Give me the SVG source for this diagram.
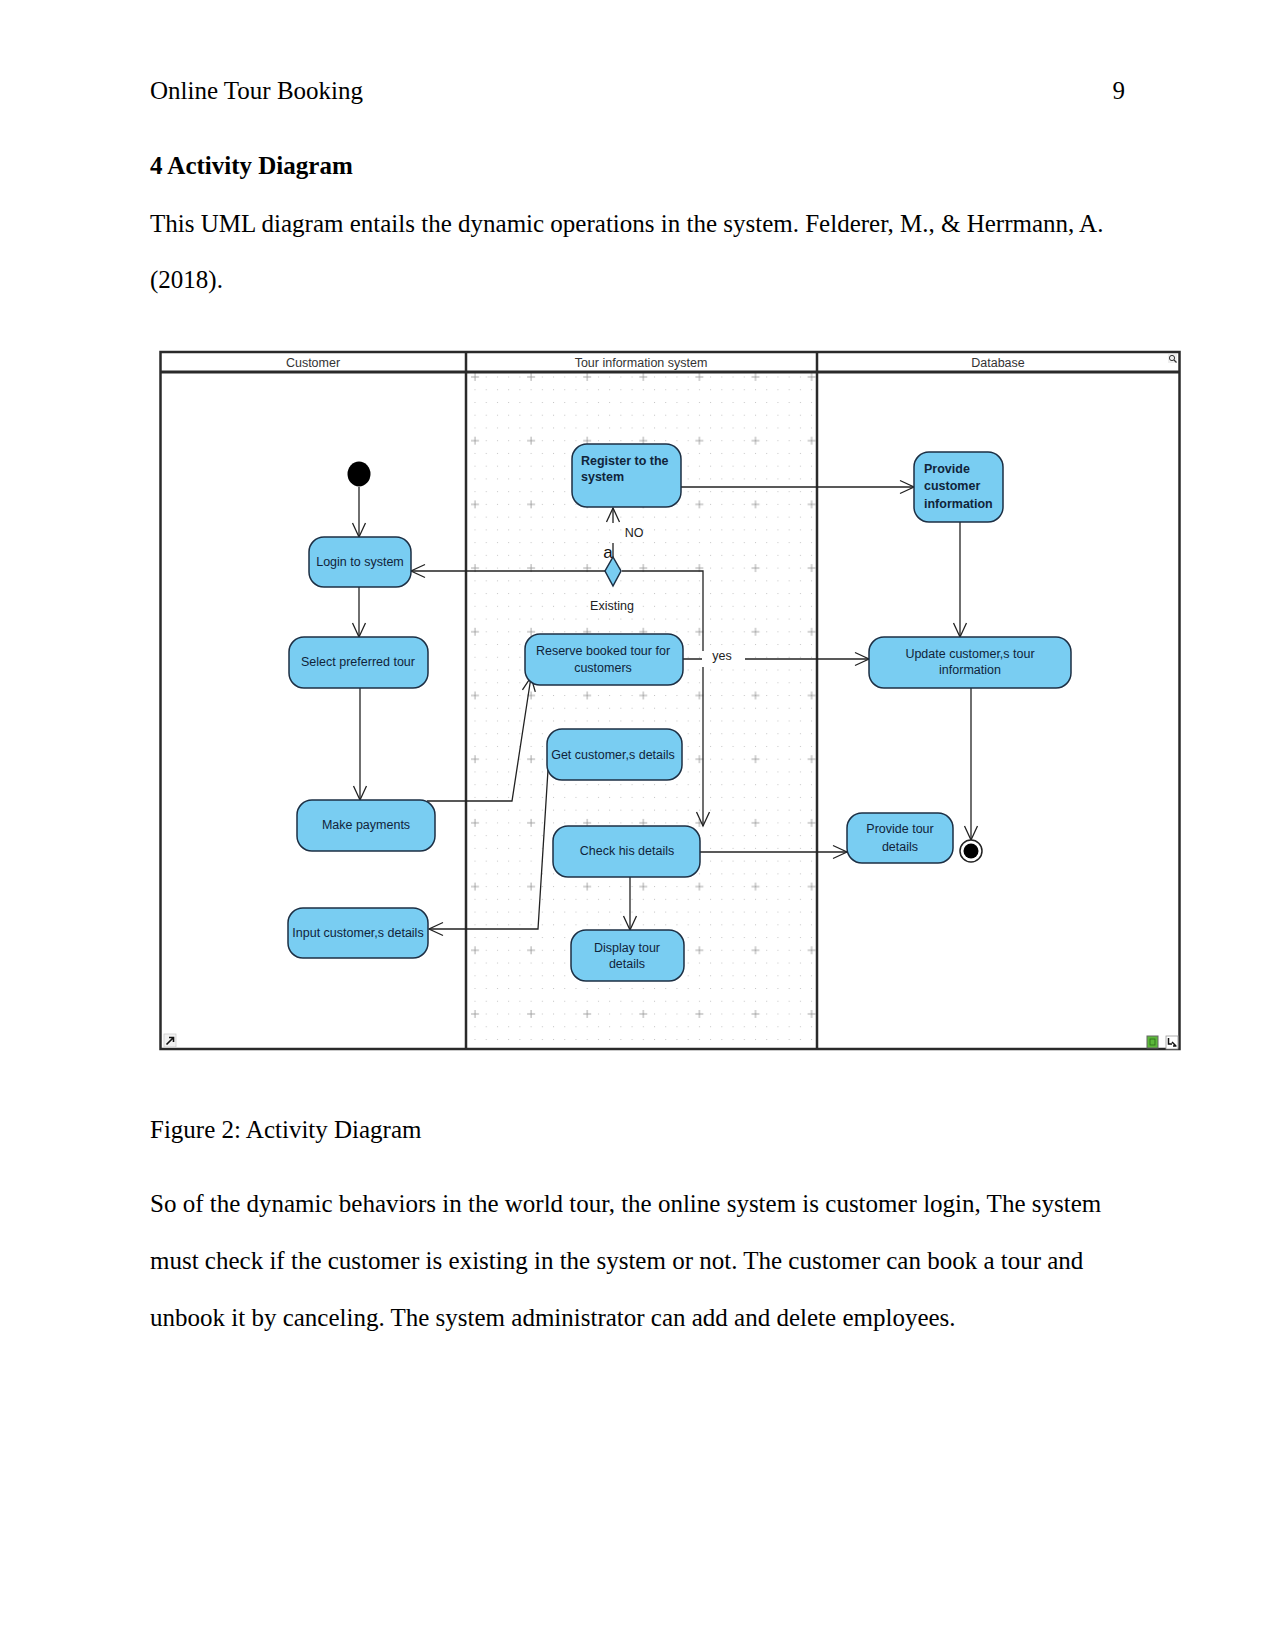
<svg xmlns="http://www.w3.org/2000/svg" width="1275" height="1651" viewBox="0 0 1275 1651">
<style>
.page{font-family:"Liberation Serif","Times New Roman",serif;font-size:25px;fill:#000}
.pb{font-weight:bold}
.hd{font-family:"Liberation Sans",Arial,sans-serif;font-size:12.5px;fill:#333;text-anchor:middle}
.node{fill:#79cdf2;stroke:#1c2f44;stroke-width:1.5}
.nt{font-family:"Liberation Sans",Arial,sans-serif;font-size:12.5px;fill:#10243a;text-anchor:middle}
.nb{font-weight:bold;text-anchor:start}
.lbl{font-family:"Liberation Sans",Arial,sans-serif;font-size:12.5px;fill:#222;text-anchor:middle}
.conn path{fill:none;stroke:#222;stroke-width:1.3}
.frame{fill:none;stroke:#2a2a2a}
</style>
<defs>
<marker id="arr" markerUnits="userSpaceOnUse" markerWidth="20" markerHeight="20" viewBox="-16 -10 20 20" refX="0" refY="0" orient="auto">
<path d="M-14,-6.5 L0,0 L-14,6.5" fill="none" stroke="#222" stroke-width="1.3"/>
</marker>
<pattern id="dots" patternUnits="userSpaceOnUse" x="474.5" y="376.5" width="11.22" height="12.74">
<rect x="0" y="0" width="1" height="1" fill="#c4c4c4"/>
</pattern>
<pattern id="plus" patternUnits="userSpaceOnUse" x="470" y="372" width="56.1" height="63.7">
<path d="M1,5 H9 M5,1 V9" stroke="#a8a8a8" stroke-width="1" fill="none"/>
</pattern>
</defs>
<rect width="1275" height="1651" fill="#fff"/>

<g id="page-text" class="page">
<text x="150" y="99">Online Tour Booking</text>
<text x="1125" y="99" text-anchor="end">9</text>
<text x="150" y="174" class="pb">4 Activity Diagram</text>
<text x="150" y="232">This UML diagram entails the dynamic operations in the system. Felderer, M., &amp; Herrmann, A.</text>
<text x="150" y="288">(2018).</text>
<text x="150" y="1138">Figure 2: Activity Diagram</text>
<text x="150" y="1212">So of the dynamic behaviors in the world tour, the online system is customer login, The system</text>
<text x="150" y="1269">must check if the customer is existing in the system or not. The customer can book a tour and</text>
<text x="150" y="1326">unbook it by canceling. The system administrator can add and delete employees.</text>
</g>

<g id="swimlanes">
<rect x="160" y="352" width="1019" height="697" fill="#fff"/>
<rect x="467" y="373" width="349" height="675" fill="url(#dots)"/>
<rect x="467" y="373" width="349" height="675" fill="url(#plus)"/>
<rect class="frame" x="160.5" y="352" width="1019" height="697" stroke-width="2.5"/>
<line class="frame" x1="160" y1="372" x2="1179" y2="372" stroke-width="3"/>
<line class="frame" x1="466" y1="352" x2="466" y2="1049" stroke-width="2.5"/>
<line class="frame" x1="817" y1="352" x2="817" y2="1049" stroke-width="2.5"/>
<text class="hd" x="313" y="366.5">Customer</text>
<text class="hd" x="641" y="366.5">Tour information system</text>
<text class="hd" x="998" y="366.5">Database</text>
<g id="icons">
<rect x="1168" y="354" width="9" height="9" fill="#eee"/>
<circle cx="1172" cy="358" r="2.6" fill="none" stroke="#333" stroke-width="1"/>
<line x1="1174" y1="360" x2="1176.5" y2="362.5" stroke="#333" stroke-width="1.2"/>
<rect x="164" y="1034" width="12" height="13" fill="#f2f2f2" stroke="#ccc" stroke-width="0.8"/>
<path d="M166.5,1044.5 L173,1038 M169,1037.5 H173.5 V1042" stroke="#111" stroke-width="1.6" fill="none"/>
<rect x="1147" y="1036" width="11" height="12" fill="#5cb83a" stroke="#666" stroke-width="1"/>
<rect x="1150" y="1039" width="5" height="6" fill="none" stroke="#2a6a1a" stroke-width="0.8"/>
<rect x="1166" y="1036" width="12" height="13" fill="#fff" stroke="#999" stroke-width="0.8"/>
<path d="M1168.5,1038 V1044 H1172 M1172,1042 L1176,1046 M1173,1046 H1176.5" stroke="#111" stroke-width="1.5" fill="none"/>
</g>
</g>

<g id="connectors" class="conn">
<path d="M359,487 L359,537" marker-end="url(#arr)"/>
<path d="M359,587 L359,637" marker-end="url(#arr)"/>
<path d="M360,688 L360,800" marker-end="url(#arr)"/>
<path d="M427,801 L512,801 L531,677" marker-end="url(#arr)"/>
<path d="M548,770 L538,929 L429,929" marker-end="url(#arr)"/>
<path d="M630,877 L630,930" marker-end="url(#arr)"/>
<path d="M681,487 L914,487" marker-end="url(#arr)"/>
<path d="M613,558 L613,543 M613,523 L613,508" marker-end="url(#arr)"/>
<path d="M605,571 L411,571" marker-end="url(#arr)"/>
<path d="M622,571 L703,571 L703,826" marker-end="url(#arr)"/>
<path d="M683,659 L869,659" marker-end="url(#arr)"/>
<path d="M960,522 L960,637" marker-end="url(#arr)"/>
<path d="M700,852 L847,852" marker-end="url(#arr)"/>
<path d="M971,688 L971,840" marker-end="url(#arr)"/>
</g>

<g id="labels">
<rect x="702" y="651" width="43" height="16" fill="#fff"/>
<text class="lbl" x="722" y="659.5">yes</text>
<text class="lbl" x="634" y="537">NO</text>
<text class="lbl" x="612" y="610">Existing</text>
<text x="608" y="558" font-family="Liberation Sans,Arial,sans-serif" font-size="17" fill="#111" text-anchor="middle">a</text>
</g>

<g id="initial"><ellipse cx="359" cy="474" rx="11.5" ry="12.5" fill="#000"/></g>
<g id="login"><rect class="node" x="309" y="537" width="102" height="50" rx="15"/><text class="nt" x="360" y="566">Login to system</text></g>
<g id="select-tour"><rect class="node" x="289" y="637" width="139" height="51" rx="15"/><text class="nt" x="358" y="666">Select preferred tour</text></g>
<g id="make-payments"><rect class="node" x="297" y="800" width="138" height="51" rx="15"/><text class="nt" x="366" y="829">Make payments</text></g>
<g id="input-details"><rect class="node" x="288" y="908" width="140" height="50" rx="15"/><text class="nt" x="358" y="937">Input customer,s details</text></g>
<g id="register"><rect class="node" x="572" y="444" width="109" height="63" rx="15"/><text class="nt nb" x="581" y="465">Register to the</text><text class="nt nb" x="581" y="481">system</text></g>
<g id="decision"><path class="node" d="M613,557 L621,571 L613,586 L605,571 Z"/></g>
<g id="reserve"><rect class="node" x="525" y="634" width="158" height="51" rx="15"/><text class="nt" x="603" y="654.5">Reserve booked tour for</text><text class="nt" x="603" y="671.5">customers</text></g>
<g id="get-details"><rect class="node" x="547" y="729" width="135" height="51" rx="15"/><text class="nt" x="613" y="758.5">Get customer,s details</text></g>
<g id="check-details"><rect class="node" x="553" y="826" width="147" height="51" rx="15"/><text class="nt" x="627" y="855">Check his details</text></g>
<g id="display-tour"><rect class="node" x="571" y="930" width="113" height="51" rx="15"/><text class="nt" x="627" y="951.5">Display tour</text><text class="nt" x="627" y="967.5">details</text></g>
<g id="provide-customer-info"><rect class="node" x="914" y="452" width="89" height="70" rx="15"/><text class="nt nb" x="924" y="473">Provide</text><text class="nt nb" x="924" y="490">customer</text><text class="nt nb" x="924" y="508">information</text></g>
<g id="update-info"><rect class="node" x="869" y="637" width="202" height="51" rx="15"/><text class="nt" x="970" y="657.5">Update customer,s tour</text><text class="nt" x="970" y="673.5">information</text></g>
<g id="provide-tour"><rect class="node" x="847" y="813" width="106" height="50" rx="15"/><text class="nt" x="900" y="832.5">Provide tour</text><text class="nt" x="900" y="850.5">details</text></g>
<g id="final"><circle cx="971" cy="851" r="11" fill="#fff" stroke="#222" stroke-width="1.5"/><circle cx="971" cy="851" r="7.5" fill="#000"/></g>
</svg>
